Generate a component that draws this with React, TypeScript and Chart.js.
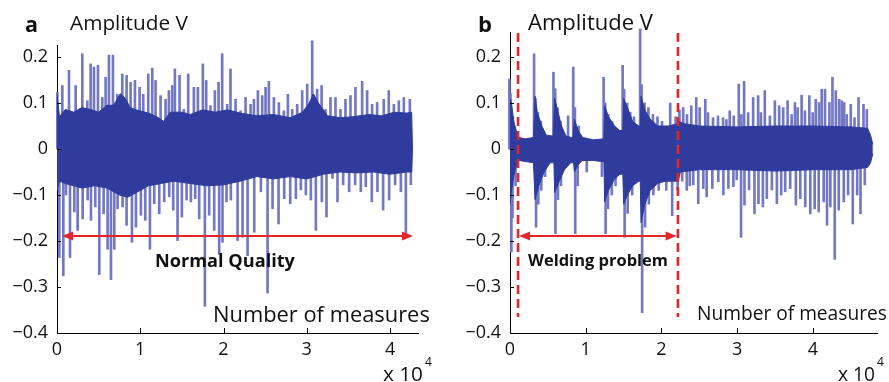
import React, { useEffect, useRef } from "react";
import { Chart, registerables } from "chart.js";
Chart.register(...registerables);

// ---------- axis ticks ----------
const X_TICKS = [0, 1, 2, 3, 4];
const X_TICK_LABELS = ["0", "1", "2", "3", "4"];
const Y_TICKS = [-0.4, -0.3, -0.2, -0.1, 0, 0.1, 0.2];
const Y_TICK_LABELS = ["\u22120.4", "\u22120.3", "\u22120.2", "\u22120.1", "0", "0.1", "0.2"];

// ---------- panel a (x in units of 10^4 measures, y in V) ----------
const A_TOP_X = [0.016,0.076,0.156,0.236,0.316,0.376,0.416,0.456,0.504,0.556,0.596,0.636,0.684,0.736,0.796,0.848,0.896,0.948,1.004,1.048,1.108,1.156,1.196,1.256,1.316,1.356,1.396,1.428,1.484,1.536,1.588,1.656,1.704,1.764,1.804,1.856,1.908,1.952,1.996,2.056,2.096,
  2.157,2.217,2.277,2.337,2.377,2.425,2.477,2.517,2.557,2.617,2.677,2.737,2.785,2.837,2.897,2.957,3.017,3.077,3.137,3.190,3.237,3.297,3.357,3.417,3.477,3.537,3.597,3.677,3.737,3.797,3.857,3.937,3.997,4.058,4.118,4.178,4.250];
const A_TOP_Y = [0.123,0.138,0.171,0.138,0.207,0.105,0.185,0.178,0.182,0.112,0.156,0.204,0.204,0.119,0.163,0.160,0.145,0.149,0.134,0.119,0.163,0.176,0.149,0.116,0.108,0.127,0.138,0.174,0.160,0.086,0.163,0.134,0.134,0.185,0.149,0.094,0.127,0.145,0.207,0.097,0.174,
  0.108,0.083,0.112,0.097,0.108,0.127,0.116,0.134,0.147,0.112,0.101,0.083,0.119,0.086,0.097,0.127,0.141,0.235,0.130,0.138,0.086,0.112,0.112,0.086,0.108,0.116,0.134,0.147,0.127,0.097,0.101,0.108,0.127,0.097,0.105,0.112,0.108];
const A_BOT_X = [0.016,0.064,0.096,0.144,0.196,0.236,0.296,0.356,0.396,0.448,0.496,0.548,0.596,0.636,0.676,0.716,0.776,0.824,0.888,0.936,0.996,1.048,1.104,1.156,1.216,1.276,1.336,1.384,1.436,1.488,1.544,1.596,1.648,1.696,1.764,1.816,1.876,1.936,1.976,2.024,2.076,
  2.157,2.217,2.277,2.357,2.437,2.517,2.577,2.649,2.717,2.789,2.857,2.917,2.977,3.037,3.097,3.169,3.225,3.297,3.357,3.425,3.497,3.569,3.637,3.697,3.769,3.837,3.905,3.977,4.049,4.118,4.178,4.238];
const A_BOT_Y = [-0.236,-0.276,-0.100,-0.236,-0.137,-0.177,-0.152,-0.111,-0.155,-0.126,-0.273,-0.141,-0.218,-0.284,-0.218,-0.130,-0.126,-0.166,-0.203,-0.170,-0.144,-0.155,-0.218,-0.119,-0.141,-0.115,-0.104,-0.133,-0.199,-0.148,-0.111,-0.115,-0.108,-0.152,-0.342,-0.144,-0.177,-0.229,-0.203,-0.115,-0.111,
  -0.199,-0.192,-0.232,-0.181,-0.093,-0.313,-0.130,-0.163,-0.108,-0.119,-0.108,-0.089,-0.100,-0.111,-0.177,-0.115,-0.148,-0.064,-0.115,-0.078,-0.093,-0.078,-0.093,-0.082,-0.115,-0.093,-0.133,-0.111,-0.078,-0.093,-0.184,-0.078];
const A_BAND_UP_X = [0,0.03,0.1,0.2,0.3,0.4,0.5,0.6,0.68,0.76,0.82,0.88,0.95,1.1,1.2,1.28,1.36,1.5,1.6,1.75,1.9,2.05,2.2,2.4,2.6,2.8,2.95,3.03,3.08,3.14,3.25,3.4,3.55,3.75,3.9,4.05,4.2,4.26,4.27];
const A_BAND_UP_Y = [0.12,0.07,0.086,0.08,0.09,0.086,0.08,0.095,0.095,0.12,0.11,0.09,0.085,0.078,0.07,0.06,0.08,0.08,0.075,0.085,0.08,0.085,0.078,0.072,0.075,0.068,0.08,0.1,0.12,0.1,0.072,0.068,0.07,0.075,0.072,0.08,0.078,0.08,0];
const A_BAND_LO_X = [0,0.03,0.1,0.2,0.3,0.45,0.6,0.75,0.85,0.95,1.1,1.25,1.4,1.6,1.8,2.0,2.2,2.4,2.6,2.8,3.0,3.2,3.4,3.6,3.8,4.0,4.2,4.26,4.27];
const A_BAND_LO_Y = [-0.09,-0.07,-0.075,-0.08,-0.085,-0.08,-0.085,-0.1,-0.105,-0.095,-0.08,-0.075,-0.07,-0.075,-0.08,-0.078,-0.07,-0.06,-0.065,-0.06,-0.065,-0.055,-0.05,-0.052,-0.05,-0.055,-0.05,-0.05,0];

// ---------- panel b ----------
const B_TOP_X = [0.005,0.02,0.05,0.331,0.35,0.38,0.42,0.587,0.61,0.64,0.68,0.78,0.848,0.87,0.92,1.249,1.27,1.31,1.36,1.50,1.52,1.56,1.6,1.65,1.731,1.75,1.79,1.84,1.9,1.96,2.02,2.128,2.2,2.25,2.3,2.35,
  2.406,2.472,2.517,2.592,2.627,2.693,2.759,2.826,2.870,2.914,2.967,3.033,3.068,3.104,3.157,3.223,3.289,3.325,3.377,3.444,3.510,3.567,3.620,3.678,3.731,3.775,3.810,3.863,3.907,3.965,4.009,4.049,4.093,4.128,4.172,4.230,4.270,4.314,4.358,4.393,4.424,4.459,4.512,4.561,4.614,4.680,4.724];
const B_TOP_Y = [0.152,0.12,0.07,0.207,0.11,0.08,0.06,0.167,0.131,0.09,0.06,0.072,0.178,0.09,0.05,0.156,0.10,0.075,0.06,0.182,0.13,0.1,0.08,0.07,0.261,0.14,0.1,0.09,0.075,0.07,0.06,0.10,0.07,0.085,0.09,0.075,
  0.094,0.112,0.090,0.108,0.079,0.068,0.072,0.068,0.064,0.083,0.072,0.141,0.075,0.147,0.079,0.112,0.116,0.079,0.127,0.072,0.105,0.094,0.090,0.105,0.075,0.101,0.090,0.117,0.083,0.116,0.079,0.108,0.101,0.130,0.130,0.101,0.156,0.127,0.108,0.105,0.101,0.075,0.097,0.068,0.112,0.097,0.086];
const B_BOT_X = [0.005,0.02,0.06,0.331,0.36,0.4,0.45,0.587,0.62,0.66,0.848,0.88,1.0,1.2,1.249,1.28,1.33,1.38,1.50,1.54,1.6,1.731,1.77,1.82,1.88,1.95,2.05,2.128,2.2,2.26,2.32,2.36,
  2.406,2.472,2.539,2.583,2.658,2.737,2.804,2.870,2.936,2.980,3.037,3.082,3.143,3.214,3.267,3.325,3.377,3.444,3.510,3.567,3.620,3.686,3.761,3.819,3.885,3.951,4.009,4.062,4.128,4.172,4.216,4.274,4.327,4.393,4.450,4.512,4.570,4.614,4.671];
const B_BOT_Y = [-0.224,-0.15,-0.08,-0.170,-0.12,-0.09,-0.06,-0.184,-0.11,-0.08,-0.184,-0.08,-0.05,-0.06,-0.184,-0.13,-0.1,-0.08,-0.192,-0.14,-0.1,-0.356,-0.17,-0.12,-0.1,-0.09,-0.09,-0.145,-0.09,-0.07,-0.09,-0.08,
  -0.078,-0.119,-0.086,-0.104,-0.086,-0.071,-0.100,-0.086,-0.082,-0.067,-0.192,-0.122,-0.089,-0.141,-0.119,-0.126,-0.108,-0.089,-0.119,-0.100,-0.093,-0.086,-0.122,-0.108,-0.126,-0.141,-0.130,-0.137,-0.115,-0.166,-0.126,-0.240,-0.133,-0.115,-0.100,-0.163,-0.100,-0.141,-0.078];
const B_BAND_UP_X = [0,0.02,0.05,0.09,0.12,0.2,0.31,0.33,0.36,0.42,0.48,0.57,0.59,0.62,0.68,0.74,0.83,0.85,0.9,0.96,1.1,1.24,1.25,1.3,1.38,1.45,1.49,1.5,1.55,1.62,1.7,1.72,1.73,1.78,1.85,1.95,2.1,2.2,2.23,2.3,2.5,3.0,3.5,4.0,4.5,4.72,4.76,4.79];
const B_BAND_UP_Y = [0.11,0.1,0.06,0.035,0.025,0.022,0.025,0.115,0.08,0.05,0.03,0.028,0.11,0.09,0.05,0.028,0.024,0.065,0.04,0.025,0.02,0.022,0.094,0.07,0.05,0.04,0.04,0.11,0.09,0.06,0.05,0.05,0.115,0.085,0.065,0.05,0.05,0.055,0.06,0.055,0.05,0.048,0.05,0.05,0.048,0.045,0.03,0.01];
const B_BAND_LO_X = [0,0.02,0.06,0.1,0.12,0.31,0.33,0.38,0.45,0.53,0.58,0.59,0.65,0.72,0.8,0.84,0.85,0.9,0.95,1.1,1.24,1.25,1.3,1.38,1.45,1.49,1.5,1.55,1.62,1.7,1.72,1.73,1.78,1.85,1.95,2.05,2.15,2.22,2.25,2.5,3.0,3.5,4.0,4.5,4.72,4.76,4.79];
const B_BAND_LO_Y = [-0.12,-0.09,-0.05,-0.03,-0.025,-0.03,-0.11,-0.08,-0.05,-0.03,-0.03,-0.095,-0.07,-0.045,-0.03,-0.03,-0.05,-0.035,-0.025,-0.025,-0.028,-0.115,-0.09,-0.065,-0.055,-0.055,-0.12,-0.1,-0.08,-0.07,-0.07,-0.16,-0.12,-0.09,-0.075,-0.07,-0.07,-0.07,-0.05,-0.045,-0.045,-0.048,-0.045,-0.045,-0.04,-0.03,-0.01];

// ---------- styles ----------
const BAND_COLOR = "#2f3b9d";
const SPIKE_COLOR = "#7378c4";
const RED = "#e3262b";
const FONT = "Open Sans";

type TextItem = { text: string; left: number; baseline: number; width: number; weight: string };
type PanelCfg = {
  left: number; width: number; yAxisW: number; padRight: number; padTop: number;
  xMax: number; yMax: number;
  topX: number[]; topY: number[]; botX: number[]; botY: number[];
  upX: number[]; upY: number[]; loX: number[]; loY: number[];
  arrow: [number, number]; arrowY: number; dashX: number[]; dashY: [number, number];
  texts: TextItem[]; sup: { left: number; baseline: number; size: number };
};

const PANELS: PanelCfg[] = [
  {
    left: 0, width: 445, yAxisW: 57, padRight: 27, padTop: 45, xMax: 4.336, yMax: 0.226,
    topX: A_TOP_X, topY: A_TOP_Y, botX: A_BOT_X, botY: A_BOT_Y,
    upX: A_BAND_UP_X, upY: A_BAND_UP_Y, loX: A_BAND_LO_X, loY: A_BAND_LO_Y,
    arrow: [0.06, 4.276], arrowY: -0.189, dashX: [], dashY: [0, 0],
    texts: [
      { text: "a", left: 25, baseline: 32, width: 13, weight: "bold" },
      { text: "Amplitude V", left: 70, baseline: 30, width: 118, weight: "normal" },
      { text: "Number of measures", left: 213, baseline: 322, width: 217, weight: "normal" },
      { text: "Normal Quality", left: 155, baseline: 267, width: 140, weight: "bold" },
      { text: "x 10", left: 383, baseline: 381, width: 40, weight: "normal" },
    ],
    sup: { left: 425, baseline: 366, size: 12 },
  },
  {
    left: 445, width: 444, yAxisW: 65, padRight: 12, padTop: 32, xMax: 4.845, yMax: 0.2543,
    topX: B_TOP_X, topY: B_TOP_Y, botX: B_BOT_X, botY: B_BOT_Y,
    upX: B_BAND_UP_X, upY: B_BAND_UP_Y, loX: B_BAND_LO_X, loY: B_BAND_LO_Y,
    arrow: [0.12, 2.2], arrowY: -0.189, dashX: [0.106, 2.217], dashY: [0.252, -0.365],
    texts: [
      { text: "b", left: 478, baseline: 32, width: 14, weight: "bold" },
      { text: "Amplitude V", left: 528, baseline: 30, width: 125, weight: "normal" },
      { text: "Number of measures", left: 697, baseline: 320, width: 190, weight: "normal" },
      { text: "Welding problem", left: 528, baseline: 266, width: 140, weight: "bold" },
      { text: "x 10", left: 838, baseline: 381, width: 37, weight: "normal" },
    ],
    sup: { left: 877, baseline: 366, size: 12 },
  },
];

function fitText(ctx: CanvasRenderingContext2D, t: TextItem, offset: number) {
  ctx.font = `${t.weight} 20px "${FONT}"`;
  const w = ctx.measureText(t.text).width;
  const size = (20 * t.width) / w;
  ctx.font = `${t.weight} ${size}px "${FONT}"`;
  ctx.textAlign = "left";
  ctx.textBaseline = "alphabetic";
  ctx.fillStyle = "#111";
  ctx.fillText(t.text, t.left - offset, t.baseline);
}

function makeOverlay(p: PanelCfg) {
  return {
    id: "overlay",
    afterDraw(chart: any) {
      const ctx = chart.ctx as CanvasRenderingContext2D;
      const xs = chart.scales.x;
      const ys = chart.scales.y;
      const px = (v: number) => xs.getPixelForValue(v);
      const py = (v: number) => ys.getPixelForValue(v);
      ctx.save();
      // inward tick marks
      ctx.strokeStyle = "#000";
      ctx.lineWidth = 1;
      ctx.beginPath();
      for (const v of Y_TICKS) {
        const y = Math.round(py(v)) + 0.5;
        ctx.moveTo(xs.left, y);
        ctx.lineTo(xs.left + 4, y);
      }
      for (const v of X_TICKS) {
        const x = Math.round(px(v)) + 0.5;
        ctx.moveTo(x, ys.bottom);
        ctx.lineTo(x, ys.bottom - 5);
      }
      ctx.stroke();
      // dashed markers
      if (p.dashX.length) {
        ctx.strokeStyle = RED;
        ctx.lineWidth = 2.6;
        ctx.setLineDash([9, 5]);
        for (const v of p.dashX) {
          ctx.beginPath();
          ctx.moveTo(px(v), py(p.dashY[0]));
          ctx.lineTo(px(v), py(p.dashY[1]));
          ctx.stroke();
        }
        ctx.setLineDash([]);
      }
      // double arrow
      const x1 = px(p.arrow[0]);
      const x2 = px(p.arrow[1]);
      const y = py(p.arrowY);
      ctx.strokeStyle = RED;
      ctx.fillStyle = RED;
      ctx.lineWidth = 2;
      ctx.beginPath();
      ctx.moveTo(x1 + 6, y);
      ctx.lineTo(x2 - 6, y);
      ctx.stroke();
      ctx.beginPath();
      ctx.moveTo(x1, y);
      ctx.lineTo(x1 + 11, y - 4.5);
      ctx.lineTo(x1 + 11, y + 4.5);
      ctx.closePath();
      ctx.fill();
      ctx.beginPath();
      ctx.moveTo(x2, y);
      ctx.lineTo(x2 - 11, y - 4.5);
      ctx.lineTo(x2 - 11, y + 4.5);
      ctx.closePath();
      ctx.fill();
      // texts
      for (const t of p.texts) fitText(ctx, t, p.left);
      ctx.font = `normal ${p.sup.size}px "${FONT}"`;
      ctx.fillStyle = "#111";
      ctx.textAlign = "left";
      ctx.fillText("4", p.sup.left - p.left, p.sup.baseline);
      ctx.restore();
    },
  };
}

function Panel({ p }: { p: PanelCfg }) {
  const ref = useRef<HTMLCanvasElement>(null);
  useEffect(() => {
    const tickFont = { family: FONT, size: 18 };
    const chart = new Chart(ref.current!, {
      type: "bar",
      data: {
        datasets: [
          {
            type: "bar",
            data: p.topX.map((x, i) => ({ x, y: [0, p.topY[i]] })) as any,
            backgroundColor: SPIKE_COLOR,
            barThickness: 2,
            clip: false as any,
            order: 2,
          },
          {
            type: "bar",
            data: p.botX.map((x, i) => ({ x, y: [p.botY[i], 0] })) as any,
            backgroundColor: SPIKE_COLOR,
            barThickness: 2,
            order: 2,
          },
          {
            type: "line",
            data: p.loX.map((x, i) => ({ x, y: p.loY[i] })),
            borderColor: BAND_COLOR,
            borderWidth: 1,
            pointRadius: 0,
            fill: false,
            order: 1,
          } as any,
          {
            type: "line",
            data: p.upX.map((x, i) => ({ x, y: p.upY[i] })),
            borderColor: BAND_COLOR,
            backgroundColor: BAND_COLOR,
            borderWidth: 1,
            pointRadius: 0,
            fill: "-1",
            order: 0,
          } as any,
        ],
      },
      options: {
        animation: false,
        responsive: false,
        devicePixelRatio: 1,
        layout: { padding: { left: 0, right: p.padRight, top: p.padTop, bottom: 0 } },
        plugins: { legend: { display: false }, tooltip: { enabled: false } },
        scales: {
          x: {
            type: "linear",
            min: 0,
            max: p.xMax,
            offset: false,
            grid: { display: false, drawTicks: false },
            border: { display: true, color: "#000", width: 1 },
            ticks: {
              font: tickFont,
              color: "#111",
              padding: 6,
              maxRotation: 0,
              autoSkip: false,
              callback: (v: any) => X_TICK_LABELS[X_TICKS.indexOf(Number(v))] ?? "",
            },
            afterBuildTicks: (s: any) => {
              s.ticks = X_TICKS.map((v) => ({ value: v }));
            },
            afterFit: (s: any) => {
              s.height = 49;
            },
          },
          y: {
            type: "linear",
            min: -0.4,
            max: p.yMax,
            grid: { display: false, drawTicks: false },
            border: { display: true, color: "#000", width: 1 },
            ticks: {
              font: tickFont,
              color: "#111",
              padding: 9,
              autoSkip: false,
              callback: (v: any) => {
                const i = Y_TICKS.findIndex((t) => Math.abs(t - Number(v)) < 1e-6);
                return i >= 0 ? Y_TICK_LABELS[i] : "";
              },
            },
            afterBuildTicks: (s: any) => {
              s.ticks = Y_TICKS.map((v) => ({ value: v }));
            },
            afterFit: (s: any) => {
              s.width = p.yAxisW;
            },
          },
        },
      } as any,
      plugins: [makeOverlay(p)],
    });
    return () => chart.destroy();
  }, [p]);
  return (
    <canvas
      ref={ref}
      width={p.width}
      height={382}
      style={{ position: "absolute", left: p.left, top: 0, width: p.width, height: 382 }}
    />
  );
}

export default function App() {
  return (
    <div style={{ position: "fixed", left: 0, top: 0, width: 889, height: 382, background: "#fff" }}>
      {PANELS.map((p, i) => (
        <Panel key={i} p={p} />
      ))}
    </div>
  );
}
